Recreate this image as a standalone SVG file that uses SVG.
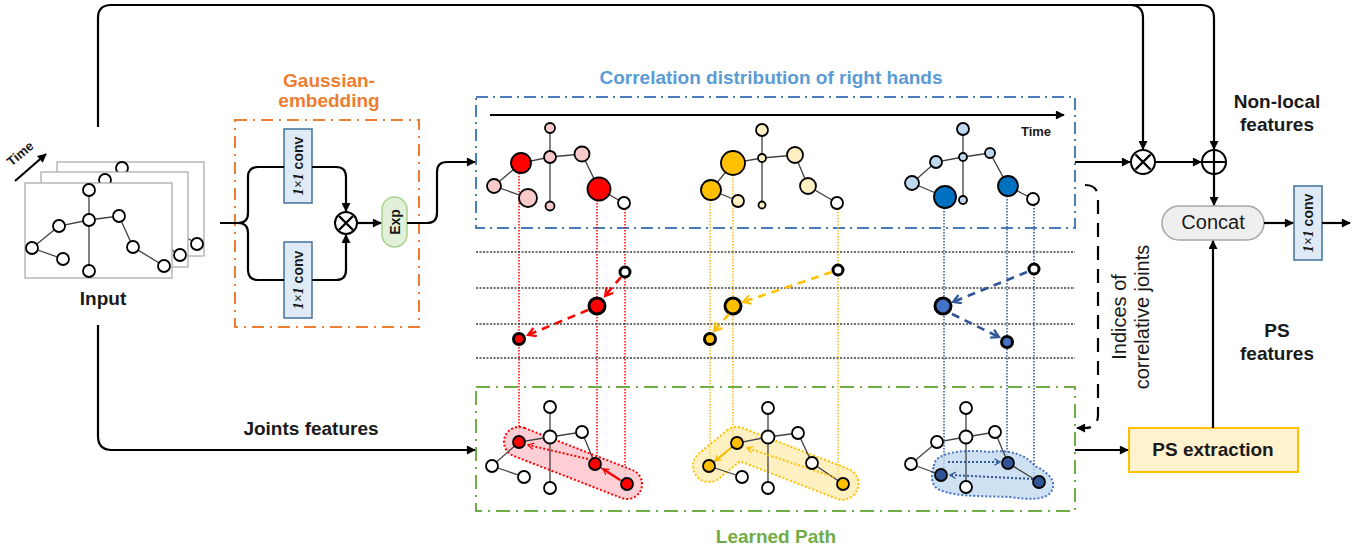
<svg xmlns="http://www.w3.org/2000/svg" width="1368" height="552" viewBox="0 0 1368 552">
<defs>
<marker id="ah" viewBox="0 0 10 10" refX="9" refY="5" markerWidth="10" markerHeight="9" markerUnits="userSpaceOnUse" orient="auto"><path d="M0,0 L10,5 L0,10 z" fill="#000"/></marker>
<marker id="chR" viewBox="0 0 10 10" refX="8" refY="5" markerWidth="11" markerHeight="11" markerUnits="userSpaceOnUse" orient="auto"><path d="M1,1 L8,5 L1,9" fill="none" stroke="#FF0000" stroke-width="2"/></marker>
<marker id="chY" viewBox="0 0 10 10" refX="8" refY="5" markerWidth="11" markerHeight="11" markerUnits="userSpaceOnUse" orient="auto"><path d="M1,1 L8,5 L1,9" fill="none" stroke="#FFC000" stroke-width="2"/></marker>
<marker id="chB" viewBox="0 0 10 10" refX="8" refY="5" markerWidth="11" markerHeight="11" markerUnits="userSpaceOnUse" orient="auto"><path d="M1,1 L8,5 L1,9" fill="none" stroke="#2F5597" stroke-width="2"/></marker>
<marker id="chs" viewBox="0 0 10 10" refX="8" refY="5" markerWidth="8" markerHeight="8" markerUnits="userSpaceOnUse" orient="auto"><path d="M1,1 L8,5 L1,9" fill="none" stroke="context-stroke" stroke-width="1.6"/></marker>
<marker id="chsR" viewBox="0 0 10 10" refX="8" refY="5" markerWidth="8" markerHeight="8" markerUnits="userSpaceOnUse" orient="auto"><path d="M1,1 L8,5 L1,9" fill="none" stroke="#FF0000" stroke-width="1.6"/></marker>
<marker id="chsY" viewBox="0 0 10 10" refX="8" refY="5" markerWidth="8" markerHeight="8" markerUnits="userSpaceOnUse" orient="auto"><path d="M1,1 L8,5 L1,9" fill="none" stroke="#FFC000" stroke-width="1.6"/></marker>
<marker id="chsB" viewBox="0 0 10 10" refX="8" refY="5" markerWidth="8" markerHeight="8" markerUnits="userSpaceOnUse" orient="auto"><path d="M1,1 L8,5 L1,9" fill="none" stroke="#2F5597" stroke-width="1.6"/></marker>
</defs>
<style>
text{font-family:"Liberation Sans",Arial,sans-serif;font-weight:bold;fill:#1a1a1a}
.lbl{font-size:19px}
.edge{stroke:#404040;stroke-width:1.3;fill:none}
.n{stroke:#000;stroke-width:1.8}
.w{fill:#fff}
.conn{fill:none;stroke:#000;stroke-width:2.2}
.frame{fill:#fff;stroke:#A6A6A6;stroke-width:1.2}
.hdot{stroke:#404040;stroke-width:1.5;stroke-dasharray:2 1.5}
.vr{stroke:#FF0000;stroke-width:1.5;stroke-dasharray:1.5 1.5}
.vy{stroke:#FFC000;stroke-width:1.5;stroke-dasharray:1.5 1.5}
.vb{stroke:#2F5597;stroke-width:1.5;stroke-dasharray:1.5 1.5}
.mid{stroke:#000;stroke-width:3}
.conv{fill:#DEEBF7;stroke:#41719C;stroke-width:1.5}
.cv{font-size:14px}
.it{font-family:"Liberation Serif","Times New Roman",serif;font-style:italic}
.op{fill:#fff;stroke:#000;stroke-width:2}
</style>

<!-- Input -->
<g id="input">
  <rect class="frame" x="57" y="162" width="147" height="94"/>
  <line class="edge" x1="122" y1="168" x2="122" y2="200"/>
  <line class="edge" x1="166" y1="225" x2="197" y2="244"/>
  <circle class="n w" cx="122" cy="168" r="6"/>
  <circle class="n w" cx="197" cy="244" r="6"/>
  <rect class="frame" x="41" y="172" width="147" height="95"/>
  <line class="edge" x1="105" y1="180" x2="105" y2="212"/>
  <line class="edge" x1="150" y1="236" x2="180" y2="255"/>
  <circle class="n w" cx="105" cy="180" r="6"/>
  <circle class="n w" cx="180" cy="255" r="6"/>
  <rect class="frame" x="25" y="183" width="147" height="95"/>
  <g class="edge">
    <line x1="89" y1="190" x2="89" y2="271"/>
    <polyline points="32,248 59,226 89,220 119,216 133,247 164,266"/>
    <line x1="32" y1="248" x2="63" y2="259"/>
  </g>
  <g class="n w">
    <circle cx="89" cy="190" r="6"/><circle cx="89" cy="220" r="6"/><circle cx="89" cy="271" r="6"/>
    <circle cx="59" cy="226" r="6"/><circle cx="32" cy="248" r="6"/><circle cx="63" cy="259" r="6"/>
    <circle cx="119" cy="216" r="6"/><circle cx="133" cy="247" r="6"/><circle cx="164" cy="266" r="6"/>
  </g>
  <line x1="15" y1="181" x2="46" y2="154" stroke="#000" stroke-width="2.2" marker-end="url(#ah)"/>
  <text transform="translate(23,157) rotate(-40)" text-anchor="middle" font-size="13">Time</text>
  <text class="lbl" x="103" y="305" text-anchor="middle">Input</text>
</g>

<!-- Gaussian embedding -->
<g id="gaussian">
  <rect x="235" y="120" width="184" height="207" fill="none" stroke="#ED7D31" stroke-width="2" stroke-dasharray="12 6 2 6"/>
  <text class="lbl" x="329" y="87" text-anchor="middle" style="fill:#ED7D31">Gaussian-</text>
  <text class="lbl" x="329" y="107" text-anchor="middle" style="fill:#ED7D31">embedding</text>
</g>
<g id="conv1">
  <rect class="conv" x="284" y="129" width="28" height="74"/>
  <text class="cv" transform="translate(298,166) rotate(-90)" y="5" text-anchor="middle"><tspan class="it">1×1</tspan> conv</text>
</g>
<g id="conv2">
  <rect class="conv" x="284" y="242" width="28" height="76"/>
  <text class="cv" transform="translate(298,280) rotate(-90)" y="5" text-anchor="middle"><tspan class="it">1×1</tspan> conv</text>
</g>
<g id="mul1">
  <circle class="op" cx="346" cy="223" r="11"/>
  <path d="M339,216 L353,230 M353,216 L339,230" stroke="#000" stroke-width="2.4"/>
</g>
<g id="exp">
  <rect x="382" y="197" width="25" height="50" rx="12.5" fill="#E2F0D9" stroke="#A9D18E" stroke-width="1.5"/>
  <text class="cv" transform="translate(394.5,222) rotate(-90)" y="5" text-anchor="middle">Exp</text>
</g>

<!-- Correlation distribution -->
<g id="correlation">
  <rect x="476" y="97" width="599" height="131" fill="none" stroke="#4A7EBB" stroke-width="2" stroke-dasharray="12 5 2 5"/>
  <text class="lbl" x="771" y="84" text-anchor="middle" style="fill:#5B9BD5">Correlation distribution of right hands</text>
  <line x1="490" y1="115" x2="1064" y2="115" stroke="#000" stroke-width="2.2" marker-end="url(#ah)"/>
  <text x="1036" y="136" text-anchor="middle" font-size="13">Time</text>
</g>

<!-- colored vertical dotted lines -->
<g id="projections">
  <line class="vr" x1="519" y1="173" x2="519" y2="436"/>
  <line class="vr" x1="597" y1="200" x2="597" y2="458"/>
  <line class="vr" x1="625" y1="209" x2="625" y2="478"/>
  <line class="vy" x1="710" y1="200" x2="710" y2="460"/>
  <line class="vy" x1="733" y1="175" x2="733" y2="437"/>
  <line class="vy" x1="838" y1="209" x2="838" y2="478"/>
  <line class="vb" x1="944" y1="208" x2="944" y2="469"/>
  <line class="vb" x1="1007" y1="196" x2="1007" y2="457"/>
  <line class="vb" x1="1034" y1="205" x2="1034" y2="476"/>
</g>

<g id="skel-red-top">
  <g class="edge">
    <line x1="550" y1="128" x2="550" y2="206"/>
    <polyline points="494,186 521,163 550,157 582,154 599,189 624,203"/>
    <line x1="494" y1="186" x2="528" y2="198"/>
  </g>
  <g class="n">
    <circle cx="550" cy="128" r="5" fill="#F9CACA"/>
    <circle cx="550" cy="157" r="6" fill="#F9CACA"/>
    <circle cx="550" cy="206" r="4.5" fill="#F9CACA"/>
    <circle cx="494" cy="186" r="7" fill="#F9CACA"/>
    <circle cx="528" cy="198" r="9" fill="#F9CACA"/>
    <circle cx="582" cy="154" r="7.5" fill="#F9CACA"/>
    <circle cx="521" cy="163" r="10" fill="#FF0000"/>
    <circle cx="599" cy="189" r="11.5" fill="#FF0000"/>
    <circle cx="624" cy="203" r="6" fill="#fff"/>
  </g>
</g>
<g id="skel-yellow-top">
  <g class="edge">
    <line x1="762" y1="130" x2="762" y2="205"/>
    <polyline points="711,190 733,163 762,158 795,155 808,186 837,203"/>
    <line x1="711" y1="190" x2="738" y2="201"/>
  </g>
  <g class="n">
    <circle cx="762" cy="130" r="6" fill="#FFF0C4"/>
    <circle cx="762" cy="158" r="4" fill="#FFF0C4"/>
    <circle cx="762" cy="205" r="3.5" fill="#FFF0C4"/>
    <circle cx="738" cy="201" r="6" fill="#FFF0C4"/>
    <circle cx="795" cy="155" r="8" fill="#FFF0C4"/>
    <circle cx="808" cy="186" r="8" fill="#FFF0C4"/>
    <circle cx="733" cy="163" r="12" fill="#FFC000"/>
    <circle cx="711" cy="190" r="10" fill="#FFC000"/>
    <circle cx="837" cy="203" r="6" fill="#fff"/>
  </g>
</g>
<g id="skel-blue-top">
  <g class="edge">
    <line x1="963" y1="129" x2="963" y2="200"/>
    <polyline points="912,183 936,162 963,157 990,153 1008,186 1033,199"/>
    <line x1="912" y1="183" x2="945" y2="197"/>
  </g>
  <g class="n">
    <circle cx="963" cy="129" r="6" fill="#BDD7EE"/>
    <circle cx="963" cy="157" r="4" fill="#BDD7EE"/>
    <circle cx="963" cy="200" r="4" fill="#BDD7EE"/>
    <circle cx="936" cy="162" r="6" fill="#BDD7EE"/>
    <circle cx="912" cy="183" r="7" fill="#BDD7EE"/>
    <circle cx="990" cy="153" r="5" fill="#BDD7EE"/>
    <circle cx="945" cy="197" r="11" fill="#0070C0"/>
    <circle cx="1008" cy="186" r="10" fill="#0070C0"/>
    <circle cx="1033" cy="199" r="6" fill="#fff"/>
  </g>
</g>

<!-- middle: time steps -->
<g id="timesteps">
  <line class="hdot" x1="476" y1="252" x2="1075" y2="252"/>
  <line class="hdot" x1="476" y1="288" x2="1075" y2="288"/>
  <line class="hdot" x1="476" y1="324" x2="1075" y2="324"/>
  <line class="hdot" x1="476" y1="358" x2="1075" y2="358"/>
</g>
<g id="mid-red">
  <circle class="mid" cx="625" cy="272" r="5" fill="#fff"/>
  <circle class="mid" cx="597" cy="306" r="8" fill="#FF0000" stroke-width="3.5"/>
  <circle class="mid" cx="519" cy="339" r="5.5" fill="#FF0000"/>
</g>
<g id="mid-yellow">
  <circle class="mid" cx="838" cy="270" r="5" fill="#fff"/>
  <circle class="mid" cx="733" cy="306" r="8" fill="#FFC000" stroke-width="3.5"/>
  <circle class="mid" cx="710" cy="339" r="5.5" fill="#FFC000"/>
</g>
<g id="mid-blue">
  <circle class="mid" cx="1034" cy="269" r="5" fill="#fff"/>
  <circle class="mid" cx="943" cy="306" r="8" fill="#4472C4" stroke-width="3.5"/>
  <circle class="mid" cx="1007" cy="342" r="5.5" fill="#4472C4"/>
</g>

<!-- Learned path -->
<g id="learned-path">
  <rect x="476" y="387" width="599" height="124" fill="none" stroke="#70AD47" stroke-width="2" stroke-dasharray="14 6 2 6"/>
  <text class="lbl" x="776" y="543" text-anchor="middle" style="fill:#70AD47">Learned Path</text>
</g>
<g id="skel-red-bottom">
  <rect x="500" y="448" width="146" height="30" rx="15" transform="rotate(21.3 573 463)" fill="#FFC7CE" fill-opacity="0.85" stroke="#FF0000" stroke-width="2" stroke-dasharray="2 2"/>
  <g class="edge">
    <line x1="550" y1="407" x2="550" y2="488"/>
    <polyline points="492,466 519,442 550,437 582,432 595,464 627,484"/>
    <line x1="492" y1="466" x2="524" y2="477"/>
  </g>
  <line x1="588" y1="459" x2="528" y2="445" stroke="#FF0000" stroke-width="2" stroke-dasharray="2 2" marker-end="url(#chsR)"/>
  <line x1="620" y1="480" x2="603" y2="469" stroke="#FF0000" stroke-width="2.2" marker-end="url(#chsR)"/>
  <g class="n">
    <circle cx="550" cy="407" r="6" fill="#fff"/><circle cx="550" cy="437" r="6.5" fill="#fff"/><circle cx="550" cy="488" r="6" fill="#fff"/>
    <circle cx="492" cy="466" r="6" fill="#fff"/><circle cx="524" cy="477" r="6" fill="#fff"/><circle cx="582" cy="432" r="6" fill="#fff"/>
    <circle cx="519" cy="442" r="6" fill="#FF0000"/><circle cx="595" cy="464" r="6" fill="#FF0000"/><circle cx="627" cy="484" r="6" fill="#FF0000"/>
  </g>
</g>
<g id="skel-yellow-bottom">
  <path d="M726.8,430.6 A16,16 0 0 1 742.8,428.1 L848.8,469.1 A16,16 0 0 1 837.2,498.9 L740,461.3 L719.2,478.4 A16,16 0 0 1 698.8,453.6 Z" fill="#FFE699" fill-opacity="0.6" stroke="#FFC000" stroke-width="2" stroke-dasharray="2 2"/>
  <g class="edge">
    <line x1="768" y1="408" x2="768" y2="488"/>
    <polyline points="709,466 737,443 768,437 798,433 812,463 843,484"/>
    <line x1="709" y1="466" x2="742" y2="477"/>
  </g>
  <line x1="834" y1="477" x2="747" y2="448" stroke="#FFC000" stroke-width="2" stroke-dasharray="2 2" marker-end="url(#chsY)"/>
  <line x1="731" y1="448" x2="715" y2="461" stroke="#FFC000" stroke-width="2.2" marker-end="url(#chsY)"/>
  <g class="n">
    <circle cx="768" cy="408" r="6" fill="#fff"/><circle cx="768" cy="437" r="6.5" fill="#fff"/><circle cx="768" cy="488" r="6" fill="#fff"/>
    <circle cx="742" cy="477" r="6" fill="#fff"/><circle cx="798" cy="433" r="6" fill="#fff"/><circle cx="812" cy="463" r="6" fill="#fff"/>
    <circle cx="737" cy="443" r="6" fill="#FFC000"/><circle cx="709" cy="466" r="6" fill="#FFC000"/><circle cx="843" cy="484" r="6" fill="#FFC000"/>
  </g>
</g>
<g id="skel-blue-bottom">
  <path d="M934,466 C934,452 965,449 990,452 C1010,449 1026,455 1035,466 C1048,472 1058,482 1051,492 C1045,500 1030,500 1010,497 C985,496 955,497 940,490 C930,486 931,474 934,466 Z" fill="#BDD7EE" fill-opacity="0.75" stroke="#4472C4" stroke-width="2" stroke-dasharray="2 2"/>
  <g class="edge">
    <line x1="966" y1="408" x2="966" y2="487"/>
    <polyline points="911,464 937,442 966,437 995,432 1008,463 1039,482"/>
    <line x1="911" y1="464" x2="941" y2="475"/>
  </g>
  <line x1="948" y1="462" x2="1000" y2="462" stroke="#2F5597" stroke-width="2" stroke-dasharray="2 2" marker-end="url(#chsB)"/>
  <line x1="1033" y1="479" x2="950" y2="475" stroke="#2F5597" stroke-width="2" stroke-dasharray="2 2" marker-end="url(#chsB)"/>
  <g class="n">
    <circle cx="966" cy="408" r="6" fill="#fff"/><circle cx="966" cy="437" r="6.5" fill="#fff"/><circle cx="966" cy="487" r="6" fill="#fff"/>
    <circle cx="911" cy="464" r="6" fill="#fff"/><circle cx="937" cy="442" r="6" fill="#fff"/><circle cx="995" cy="432" r="6" fill="#fff"/>
    <circle cx="941" cy="475" r="6" fill="#2F5597"/><circle cx="1008" cy="463" r="6" fill="#2F5597"/><circle cx="1039" cy="482" r="6" fill="#2F5597"/>
  </g>
</g>

<!-- Right side -->
<g id="mul2">
  <circle class="op" cx="1143" cy="162" r="12"/>
  <path d="M1135.5,154.5 L1150.5,169.5 M1150.5,154.5 L1135.5,169.5" stroke="#000" stroke-width="2.4"/>
</g>
<g id="add">
  <circle class="op" cx="1214" cy="162" r="12"/>
  <path d="M1202,162 H1226 M1214,150 V174" stroke="#000" stroke-width="2.2"/>
</g>
<g id="concat">
  <rect x="1162" y="206" width="102" height="34" rx="17" fill="#EFEFEF" stroke="#A6A6A6" stroke-width="1.5"/>
  <text class="lbl" x="1213" y="229" text-anchor="middle" font-weight="normal" style="font-weight:normal;font-size:20px">Concat</text>
</g>
<g id="conv3">
  <rect class="conv" x="1294" y="186" width="28" height="74"/>
  <text class="cv" transform="translate(1308,223) rotate(-90)" y="5" text-anchor="middle"><tspan class="it">1×1</tspan> conv</text>
</g>
<g id="ps-extraction">
  <rect x="1129" y="428" width="169" height="44" fill="#FFF2CC" stroke="#FFC000" stroke-width="2"/>
  <text class="lbl" x="1213" y="456" text-anchor="middle">PS extraction</text>
</g>
<g id="labels">
  <text class="lbl" x="1277" y="108" text-anchor="middle">Non-local</text>
  <text class="lbl" x="1277" y="131" text-anchor="middle">features</text>
  <text class="lbl" x="1277" y="337" text-anchor="middle">PS</text>
  <text class="lbl" x="1277" y="360" text-anchor="middle">features</text>
  <text class="lbl" x="311" y="435" text-anchor="middle">Joints features</text>
  <text class="lbl" transform="translate(1126,317) rotate(-90)" text-anchor="middle" style="font-weight:normal;font-size:20px">Indices of</text>
  <text class="lbl" transform="translate(1149,317) rotate(-90)" text-anchor="middle" style="font-weight:normal;font-size:20px">correlative joints</text>
</g>

<!-- connectors -->
<g id="connectors">
  <path class="conn" d="M98,127 V18 Q98,5 111,5 H1130 Q1143,5 1143,18 V149" marker-end="url(#ah)"/>
  <path class="conn" d="M1128,5 H1201 Q1214,5 1214,18 V149" marker-end="url(#ah)"/>
  <path class="conn" d="M98,325 V436 Q98,450 112,450 H475" marker-end="url(#ah)"/>
  <path class="conn" d="M220,223 H238 Q248,223 248,213 V177 Q248,167 258,167 H284"/>
  <path class="conn" d="M238,223 Q248,223 248,233 V270 Q248,280 258,280 H284"/>
  <path class="conn" d="M312,167 H336 Q346,167 346,177 V211" marker-end="url(#ah)"/>
  <path class="conn" d="M312,280 H336 Q346,280 346,270 V235" marker-end="url(#ah)"/>
  <path class="conn" d="M357,223 H381" marker-end="url(#ah)"/>
  <path class="conn" d="M407,223 H427 Q437,223 437,213 V172 Q437,162 447,162 H475" marker-end="url(#ah)"/>
  <path class="conn" d="M1075,162 H1130" marker-end="url(#ah)"/>
  <path class="conn" d="M1155,162 H1201" marker-end="url(#ah)"/>
  <path class="conn" d="M1214,174 V205" marker-end="url(#ah)"/>
  <path class="conn" d="M1264,223 H1293" marker-end="url(#ah)"/>
  <path class="conn" d="M1322,223 H1350" marker-end="url(#ah)"/>
  <path class="conn" d="M1213,428 V241" marker-end="url(#ah)"/>
  <path class="conn" d="M1075,450 H1128" marker-end="url(#ah)"/>
  <path class="conn" d="M1085,185 Q1098,185 1098,198 V415 Q1098,428 1085,428 H1077" stroke-dasharray="14 9" stroke-width="2.4" marker-end="url(#ah)"/>
  <line x1="621" y1="277" x2="605" y2="296" stroke="#FF0000" stroke-width="2.6" stroke-dasharray="8 6" marker-end="url(#chR)"/>
  <line x1="588" y1="310" x2="528" y2="335" stroke="#FF0000" stroke-width="2.6" stroke-dasharray="8 6" marker-end="url(#chR)"/>
  <line x1="832" y1="272" x2="743" y2="302" stroke="#FFC000" stroke-width="2.6" stroke-dasharray="8 6" marker-end="url(#chY)"/>
  <line x1="729" y1="314" x2="714" y2="331" stroke="#FFC000" stroke-width="2.6" stroke-dasharray="8 6" marker-end="url(#chY)"/>
  <line x1="1027" y1="272" x2="953" y2="302" stroke="#2F5597" stroke-width="2.6" stroke-dasharray="8 6" marker-end="url(#chB)"/>
  <line x1="952" y1="314" x2="999" y2="337" stroke="#2F5597" stroke-width="2.6" stroke-dasharray="8 6" marker-end="url(#chB)"/>
</g>
</svg>
